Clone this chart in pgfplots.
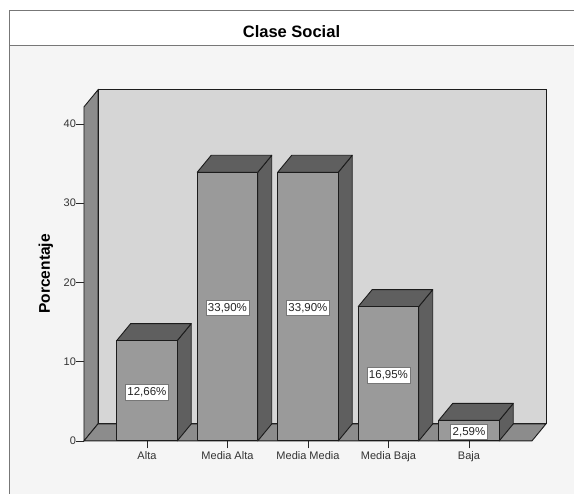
\documentclass[border=0pt]{standalone}
\usepackage{fontspec}
\setmainfont{Liberation Sans}
\usepackage{pgfplots}
\pgfplotsset{compat=1.18}

% Depth of the 3D effect in data units, and half a bar width
\newcommand{\dpx}{0.174}
\newcommand{\dpy}{2.145}
\newcommand{\hw}{0.376}
\definecolor{panel}{HTML}{F5F5F5}
\definecolor{wall}{HTML}{D6D6D6}
\definecolor{floorgrey}{HTML}{8C8C8C}
\definecolor{sidegrey}{HTML}{5F5F5F}
\definecolor{frontgrey}{HTML}{9A9A9A}
\definecolor{edge}{HTML}{1C1C1C}
\definecolor{frameline}{HTML}{777777}

% One prism: front face, top face and side face at category #1 with height #2
\newcommand{\prism}[2]{%
  \pgfmathsetmacro{\xl}{#1-\hw}\pgfmathsetmacro{\xr}{#1+\hw}%
  \pgfmathsetmacro{\xls}{\xl+\dpx}\pgfmathsetmacro{\xrs}{\xr+\dpx}%
  \pgfmathsetmacro{\yt}{#2+\dpy}\pgfmathsetmacro{\yb}{\dpy}%
  \addplot[draw=edge,line width=0.9pt,fill=sidegrey,line join=round] coordinates {(\xr,0) (\xrs,\yb) (\xrs,\yt) (\xr,#2)} --cycle;
  \addplot[draw=edge,line width=0.9pt,fill=sidegrey,line join=round] coordinates {(\xl,#2) (\xls,\yt) (\xrs,\yt) (\xr,#2)} --cycle;
  \addplot[draw=edge,line width=0.9pt,fill=frontgrey,line join=round] coordinates {(\xl,0) (\xl,#2) (\xr,#2) (\xr,0)} --cycle;
}
% Percentage label in a white box
\newcommand{\pct}[3]{%
  \node[draw=frameline,line width=0.9pt,fill=white,inner xsep=2pt,inner ysep=3pt,yshift=-1.5pt,font=\fontsize{11.5}{12}\selectfont,text=black!85]
    at (axis cs:#1,#2) {#3};
}

\begin{document}
\begin{tikzpicture}[x=1pt,y=1pt]
  \path[use as bounding box,fill=white] (0,0) rectangle (574,494);
  % Chart frame with its title band
  \fill[panel] (9,0) rectangle (574,449);
  \draw[frameline,line width=0.9pt] (9,0) -- (9,484) -- (574,484);
  \draw[frameline,line width=0.9pt] (9,449) -- (574,449);
  \node[font=\bfseries\fontsize{16.5}{18}\selectfont] at (291.5,462) {Clase Social};

  \begin{axis}[
    at={(104.3,67)}, anchor=south west,
    scale only axis, width=448pt, height=334pt,
    xmin=-0.7826, xmax=4.7826, ymin=0, ymax=42.15,
    clip=false,
    axis line style={draw=none},
    xtick={0,1,2,3,4},
    xticklabels={Alta,Media Alta,Media Media,Media Baja,Baja},
    ytick={0,10,20,30,40},
    tick align=outside, tick pos=left,
    major tick length=7.5pt,
    tick style={draw=black!85,line width=0.8pt},
    tick label style={font=\fontsize{11}{12}\selectfont,text=black!80},
    /pgf/number format/assume math mode=true,
    xticklabel style={yshift=0pt},
    yticklabel style={xshift=3pt},
    ylabel={\bfseries Porcentaje},
    ylabel style={font=\fontsize{15.5}{17}\selectfont,at={(axis description cs:0,0.5)},anchor=center,yshift=38pt},
  ]
    % Back wall, left wall and floor
    \addplot[draw=edge,line width=0.9pt,fill=wall] coordinates {(-0.6086,2.145) (-0.6086,44.3) (4.9566,44.3) (4.9566,2.145)} --cycle;
    \addplot[draw=edge,line width=0.9pt,fill=floorgrey] coordinates {(-0.7826,0) (-0.7826,42.15) (-0.6086,44.3) (-0.6086,2.145)} --cycle;
    \addplot[draw=edge,line width=0.9pt,fill=floorgrey] coordinates {(-0.7826,0) (-0.6086,2.145) (4.9566,2.145) (4.7826,0)} --cycle;

    \prism{0}{12.66}
    \prism{1}{33.90}
    \prism{2}{33.90}
    \prism{3}{16.95}
    \prism{4}{2.59}

    \pct{0}{6.33}{12,66\%}
    \pct{1}{16.95}{33,90\%}
    \pct{2}{16.95}{33,90\%}
    \pct{3}{8.475}{16,95\%}
    \pct{4}{1.295}{2,59\%}
  \end{axis}
\end{tikzpicture}
\end{document}
